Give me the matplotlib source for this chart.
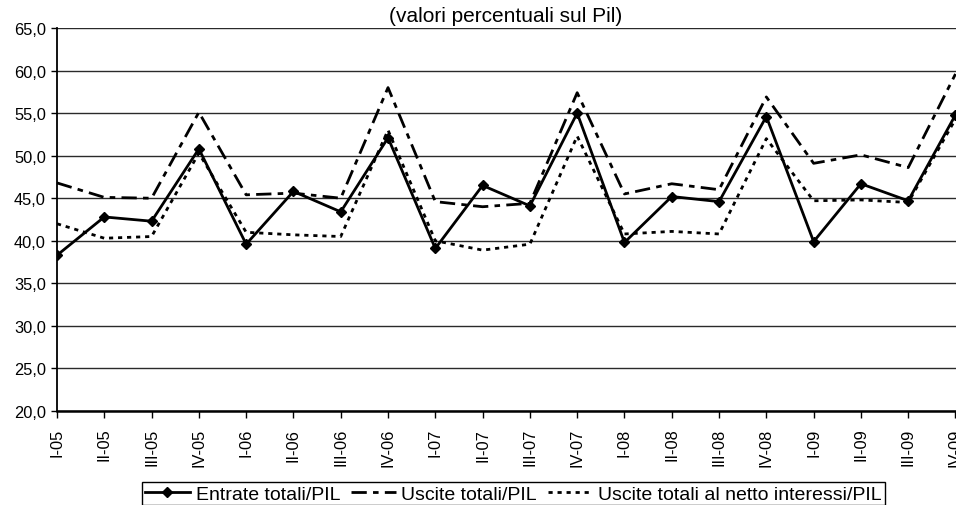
import matplotlib
matplotlib.use("Agg")
import matplotlib.pyplot as plt
from matplotlib.ticker import FuncFormatter, MultipleLocator

plt.rcParams['font.family'] = ['Liberation Sans', 'DejaVu Sans']
plt.rcParams['lines.scale_dashes'] = False

categories = ["I-05", "II-05", "III-05", "IV-05",
              "I-06", "II-06", "III-06", "IV-06",
              "I-07", "II-07", "III-07", "IV-07",
              "I-08", "II-08", "III-08", "IV-08",
              "I-09", "II-09", "III-09", "IV-09"]

entrate = [38.3, 42.8, 42.3, 50.8, 39.6, 45.8, 43.4, 52.1, 39.1, 46.5,
           44.1, 55.0, 39.8, 45.2, 44.6, 54.6, 39.9, 46.7, 44.7, 54.8]
uscite = [46.8, 45.1, 45.0, 55.1, 45.4, 45.6, 45.0, 58.0, 44.6, 44.0,
          44.4, 57.4, 45.5, 46.7, 46.0, 56.9, 49.1, 50.1, 48.6, 59.6]
uscite_netto = [42.0, 40.3, 40.5, 50.3, 41.0, 40.7, 40.5, 53.0, 40.0, 38.9,
                39.6, 52.3, 40.8, 41.1, 40.8, 52.0, 44.7, 44.8, 44.5, 54.3]

title = "(valori percentuali sul Pil)"
labels = ["Entrate totali/PIL", "Uscite totali/PIL",
          "Uscite totali al netto interessi/PIL"]

W, H = 956, 506
fig = plt.figure(figsize=(W / 100, H / 100), dpi=100)
ax = fig.add_axes([57 / W, 1 - 412 / H, (955.5 - 57) / W, (412 - 29) / H])

x = list(range(len(categories)))
ax.set_ylim(20, 65)
ax.set_xlim(0, len(categories) - 1)
ax.yaxis.set_major_locator(MultipleLocator(5))
ax.yaxis.set_major_formatter(FuncFormatter(lambda v, p: f"{v:.1f}".replace(".", ",")))
ax.grid(axis='y', color='#2a2a2a', linewidth=1.0)
ax.set_axisbelow(True)

l1, = ax.plot(x, entrate, color='black', linewidth=2.0, marker='D', markersize=5.5,
              label=labels[0], zorder=5)
l2, = ax.plot(x, uscite, color='black', linewidth=2.0, dashes=(11, 4.5, 4, 4.5),
              label=labels[1], zorder=4)
l3, = ax.plot(x, uscite_netto, color='black', linewidth=2.0, dashes=(3, 3.5),
              label=labels[2], zorder=3)

ax.set_xticks(x)
ax.set_xticklabels(categories, rotation=90, fontsize=11.8)
ax.tick_params(axis='y', labelsize=11.8, length=4, width=1, color='black', pad=4)
ax.tick_params(axis='x', length=5, width=1, color='black', pad=7)
for s in ['top', 'right']:
    ax.spines[s].set_visible(False)
ax.spines['left'].set_linewidth(1.3)
ax.spines['bottom'].set_linewidth(1.8)

fig.text(506 / W, 1 - 16 / H, title, ha='center', va='center', fontsize=15)

leg = fig.legend(handles=[l1, l2, l3], loc='upper center',
                 bbox_to_anchor=(513.5 / W, 1 - 483 / H), ncol=3,
                 fontsize=14, frameon=True, fancybox=False,
                 edgecolor='black', framealpha=1, borderpad=0.15,
                 handlelength=2.3, handletextpad=0.3, columnspacing=0.55,
                 borderaxespad=0)
leg.get_frame().set_linewidth(1.0)

fig.savefig("out.png", dpi=100)
